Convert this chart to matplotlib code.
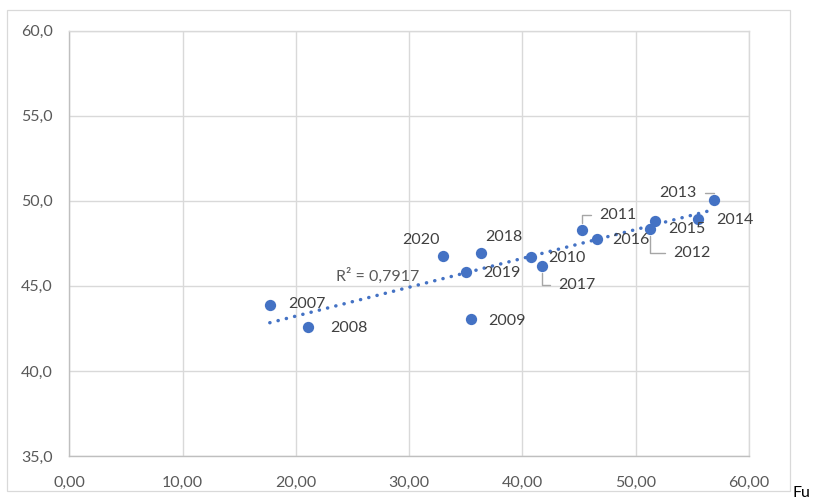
import numpy as np
import matplotlib
matplotlib.use("Agg")
import matplotlib.pyplot as plt
from matplotlib.patches import Rectangle

plt.rcParams['font.family'] = ['Lato', 'DejaVu Sans']

years = ['2007', '2008', '2009', '2010', '2011', '2012', '2013', '2014',
         '2015', '2016', '2017', '2018', '2019', '2020']
x_vals = [17.7, 21.1, 35.5, 40.75, 45.3, 51.3, 56.9, 55.5,
          51.7, 46.55, 41.7, 36.35, 35.0, 32.95]
y_vals = [43.86, 42.6, 43.06, 46.67, 48.26, 48.34, 50.04, 48.96,
          48.81, 47.75, 46.18, 46.96, 45.79, 46.76]
r2_label = "R² = 0,7917"
x_ticks = [0, 10, 20, 30, 40, 50, 60]
y_ticks = [35, 40, 45, 50, 55, 60]

# label offsets in pixels (dx, dy, ha, leader)
label_style = {
    '2007': (18, 1, 'left', False),
    '2008': (22, -1, 'left', False),
    '2009': (17, -2, 'left', False),
    '2010': (17, -1, 'left', False),
    '2011': (17, 15, 'left', True),
    '2012': (23, -24, 'left', True),
    '2013': (-17, 7, 'right', True),
    '2014': (18, -1, 'left', False),
    '2015': (13, -8, 'left', False),
    '2016': (16, -1, 'left', False),
    '2017': (17, -19, 'left', True),
    '2018': (4, 16, 'left', False),
    '2019': (17, -1, 'left', False),
    '2020': (-3, 16, 'right', False),
}

blue = '#4472C4'
grid = '#D9D9D9'
txt = '#595959'
fs = 11.5

fig = plt.figure(figsize=(8.16, 5.01), dpi=100)
ax = fig.add_axes([69.3 / 816, 45 / 501, (749 - 69.3) / 816, (456 - 30.7) / 501])

# outer chart border
fig.patches.append(Rectangle((7 / 816, 1 - 491 / 501), (790 - 7) / 816, (491 - 10) / 501,
                             transform=fig.transFigure, fill=False,
                             edgecolor='#D9D9D9', linewidth=0.9))

ax.set_xlim(0, 60)
ax.set_ylim(35, 60)
ax.set_xticks(x_ticks)
ax.set_yticks(y_ticks)
ax.set_xticklabels([f"{v:.2f}".replace('.', ',') for v in x_ticks])
ax.set_yticklabels([f"{v:.1f}".replace('.', ',') for v in y_ticks])
ax.tick_params(axis='x', length=0, labelsize=fs, labelcolor=txt, pad=14)
ax.tick_params(axis='y', length=0, labelsize=fs, labelcolor=txt, pad=12)
ax.grid(True, color=grid, linewidth=1.0)
ax.set_axisbelow(True)
for s in ax.spines.values():
    s.set_color(grid)
    s.set_linewidth(1.0)
ax.spines['left'].set_color('#BFBFBF')
ax.spines['bottom'].set_color('#BFBFBF')

x = np.array(x_vals)
y = np.array(y_vals)

# trend line
m, b = np.polyfit(x, y, 1)
xs = np.array([x.min(), x.max()])
ax.plot(xs, m * xs + b, linestyle=(0, (0.05, 2.4)), color=blue, linewidth=2.5,
        dash_capstyle='round', solid_capstyle='round', zorder=2)

ax.scatter(x, y, s=66, color=blue, zorder=3, linewidths=0)

for yr, xv, yv in zip(years, x_vals, y_vals):
    dx, dy, ha, leader = label_style[yr]
    kw = {}
    if leader:
        kw['arrowprops'] = dict(arrowstyle='-', color='#A6A6A6', linewidth=1.0,
                                connectionstyle='angle,angleA=0,angleB=90,rad=0',
                                relpos=(0, 0.5) if ha == 'left' else (1, 0.5),
                                shrinkA=4, shrinkB=5)
    ax.annotate(yr, (xv, yv), xytext=(dx, dy), textcoords='offset pixels',
                ha=ha, va='center', fontsize=fs, color='#404040', zorder=4, **kw)

ax.text(23.5, 45.57, r2_label, ha='left', va='center', fontsize=fs, color=txt)

fig.text(793 / 816, 1 / 501, "Fu", ha='left', va='bottom', fontsize=fs, color='black')

fig.savefig('out.png', dpi=100)
